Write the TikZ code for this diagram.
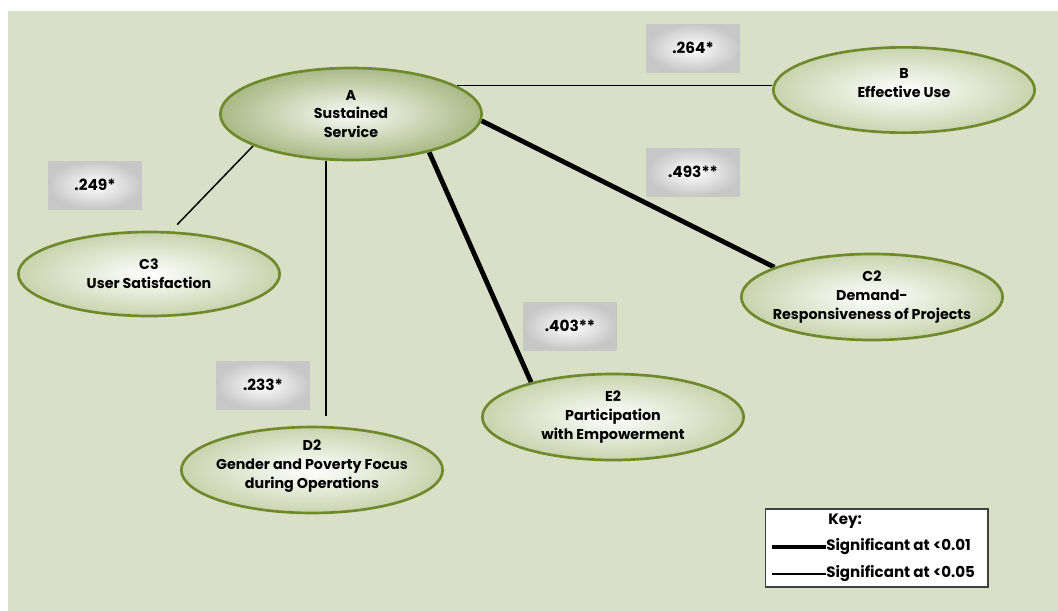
\documentclass[tikz,border=0pt]{standalone}
\usepackage{fontspec}
\setmainfont{Poppins}
\usetikzlibrary{shapes.geometric,backgrounds}

\definecolor{paper}{HTML}{DADFC8}
\definecolor{rim}{HTML}{6E8A2C}
\definecolor{leaf}{HTML}{C9D3AE}
\definecolor{hubleaf}{HTML}{A9B985}
\definecolor{keyrim}{HTML}{404040}

\tikzset{
  factor/.style={ellipse, draw=rim, line width=2pt, inner color=white, outer color=leaf,
    minimum width=196pt, minimum height=63pt, inner xsep=-14pt, inner ysep=0pt, align=center,
    font=\bfseries\fontsize{10.7}{14.2}\selectfont},
  hub/.style={factor, inner color=white!90!leaf, outer color=hubleaf, minimum height=69pt},
  coef/.style={rectangle, inner color=white, outer color=black!22, minimum width=70pt,
    minimum height=36pt, font=\bfseries\fontsize{11.5}{13}\selectfont},
  keytext/.style={anchor=west, inner sep=0pt, font=\bfseries\fontsize{11.3}{13}\selectfont},
  strong/.style={line width=3.6pt},
  weak/.style={line width=1.1pt}
}

\begin{document}
\begin{tikzpicture}[x=0.75pt,y=-0.75pt]
  \useasboundingbox (0,0) rectangle (1058,611);

  % factors
  \node[hub] (A) at (351,114) {A\\Sustained\\Service};
  \node[factor, minimum height=64pt] (B) at (904,90) {B\\Effective Use\\[-4pt]\mbox{}};
  \node[factor] (C3) at (149,274) {C3\\User Satisfaction};
  \node[factor, minimum height=64.5pt] (C2) at (872,297) {C2\\Demand-\\Responsiveness of Projects};
  \node[factor, minimum height=64.5pt] (E2) at (613,417) {E2\\Participation\\with Empowerment};
  \node[factor, minimum height=62pt] (D2) at (312,470) {D2\\Gender and Poverty Focus\\during Operations\\[-5pt]\mbox{}};

  % correlations
  \node[coef] (rB) at (693,48) {.264*};
  \node[coef] (rC2) at (693,172) {.493**};
  \node[coef] (rC3) at (95,185) {.249*};
  \node[coef] (rE2) at (570,326) {.403**};
  \node[coef] (rD2) at (263,385) {.233*};

  \begin{scope}[on background layer]
    \fill[paper] (8,11) rectangle (1058,611);
    \draw[weak] (A.15) -- (A.15 -| B.west);
    \draw[weak, shorten >=7pt] (A.198) -- (C3.63);
    \draw[weak, shorten >=7.5pt] ([xshift=-18.75pt]A.south) -- ([xshift=-18.75pt]A.south |- D2.north);
    \draw[strong] (A.334) -- (E2.157);
    \draw[strong] (A.357) -- (C2.163);
  \end{scope}

  % key
  \node[draw=keyrim, line width=1pt, fill=white, minimum width=167pt, minimum height=58.5pt,
    inner sep=0pt] (key) at (876.5,548) {};
  \node[keytext] (kt) at (828,521) {Key:};
  \node[keytext] (k1) at (826,547) {Significant at <0.01};
  \node[keytext] (k2) at (826,574) {Significant at <0.05};
  \draw[line width=3pt] (k1.west) -- ++(-54,0);
  \draw[weak] (k2.west) -- ++(-54,0);
\end{tikzpicture}
\end{document}
